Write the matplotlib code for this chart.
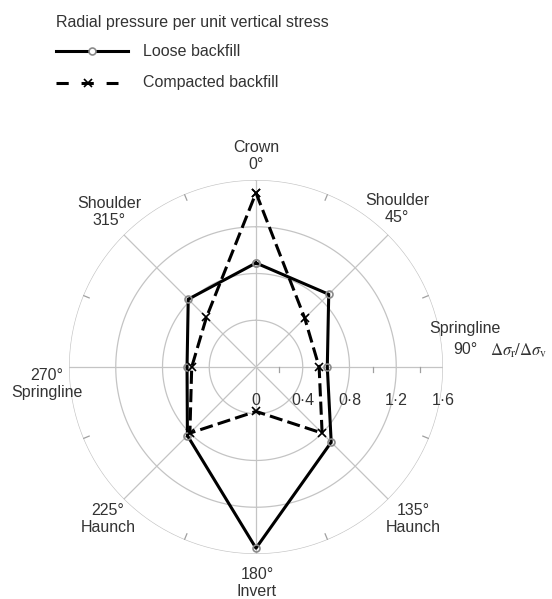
import numpy as np
import matplotlib.pyplot as plt
from matplotlib.lines import Line2D

plt.rcParams['font.family'] = ['Liberation Sans', 'DejaVu Sans']

# radial pressure per unit vertical stress, clockwise from crown
angles_deg = [0, 45, 90, 135, 180, 225, 270, 315]
loose = [0.89, 0.88, 0.61, 0.91, 1.55, 0.83, 0.59, 0.82]
compacted = [1.49, 0.59, 0.54, 0.80, 0.38, 0.80, 0.55, 0.60]

ring_values = [0.4, 0.8, 1.2, 1.6]
tick_labels = ['0', '0·4', '0·8', '1·2', '1·6']
tick_values = [0, 0.4, 0.8, 1.2, 1.6]
minor_ticks = [0.2, 0.6, 1.0, 1.4]

W, H = 552, 599
fig = plt.figure(figsize=(W / 100, H / 100), dpi=100)

def fx(x):
    return x / W

def fy(y):
    return 1 - y / H

# polar axes: centre (256, 367) px, radius 187 px for 1.6
cx, cy, R = 256, 367, 187
ax = fig.add_axes([fx(cx - R), fy(cy + R), 2 * R / W, 2 * R / H], projection='polar')
ax.set_theta_zero_location('N')
ax.set_theta_direction(-1)
ax.set_rlim(0, 1.6)
ax.grid(False)
ax.set_xticks([])
ax.set_yticks([])
ax.spines['polar'].set_visible(False)
ax.patch.set_visible(False)

grid_col = '#c4c4c4'
th = np.linspace(0, 2 * np.pi, 361)
for r in ring_values:
    ax.plot(th, np.full_like(th, r), color=grid_col, lw=0.9, zorder=1)
for a in angles_deg:
    ax.plot([np.radians(a)] * 2, [0, 1.6], color=grid_col, lw=0.9, zorder=1)
# short ticks on the outer ring
for a in np.arange(22.5, 360, 45):
    ax.plot([np.radians(a)] * 2, [1.545, 1.6], color='#a0a0a0', lw=0.9, zorder=1)
# minor ticks along the 90 deg axis (pointing down)
for r in minor_ticks:
    d = 0.045
    ax.plot([np.pi / 2, np.arctan2(r, -d)], [r, np.hypot(r, d)],
            color='#a0a0a0', lw=0.9, zorder=1)

theta = np.radians(angles_deg + [angles_deg[0]])
ax.plot(theta, loose + [loose[0]], color='black', lw=2.2, zorder=3,
        marker='o', ms=5, mfc='none', mec='#8a8a8a', mew=1.2)
ax.plot(theta, compacted + [compacted[0]], color='black', lw=2.2, zorder=4,
        dashes=(4.3, 1.7), marker='x', ms=6, mec='black', mew=1.2)

txt = '#333333'
fs = 11.5
for lbl, v in zip(tick_labels, tick_values):
    ax.annotate(lbl, xy=(np.pi / 2, v), xytext=(0, -24), textcoords='offset points',
                ha='center', va='center', fontsize=fs, color=txt, annotation_clip=False)

labels = [
    ('Crown\n0°', 256, 156),
    ('Shoulder\n45°', 397, 209),
    ('Springline', 465, 329),
    ('90°', 465, 350),
    ('135°\nHaunch', 413, 519),
    ('180°\nInvert', 257, 583),
    ('225°\nHaunch', 108, 519),
    ('270°\nSpringline', 47, 384),
    ('Shoulder\n315°', 109, 212),
]
for s, x, y in labels:
    fig.text(fx(x), fy(y), s, ha='center', va='center', fontsize=fs,
             color=txt, linespacing=1.2)

fig.text(fx(490), fy(351), r'$\Delta\sigma_{\mathrm{r}}/\Delta\sigma_{\mathrm{v}}$',
         ha='left', va='center', fontsize=12, color=txt, math_fontfamily='stix')

# legend
fig.text(fx(56), fy(23), 'Radial pressure per unit vertical stress', ha='left',
         va='center', fontsize=fs, color=txt)
fig.add_artist(Line2D([fx(56), fx(128)], [fy(51)] * 2, transform=fig.transFigure,
                      color='black', lw=2.2))
fig.add_artist(Line2D([fx(92)], [fy(51)], transform=fig.transFigure, marker='o',
                      ms=5, mfc='white', mec='#8a8a8a', mew=1.2))
fig.text(fx(143), fy(51), 'Loose backfill', ha='left', va='center', fontsize=fs, color=txt)
fig.add_artist(Line2D([fx(56), fx(118)], [fy(83)] * 2, transform=fig.transFigure,
                      color='black', lw=2.2, dashes=(4, 4.2)))
fig.add_artist(Line2D([fx(88)], [fy(83)], transform=fig.transFigure, marker='x',
                      ms=6, mec='black', mew=1.2))
fig.text(fx(143), fy(83), 'Compacted backfill', ha='left', va='center', fontsize=fs, color=txt)

fig.savefig('out.png', dpi=100)
